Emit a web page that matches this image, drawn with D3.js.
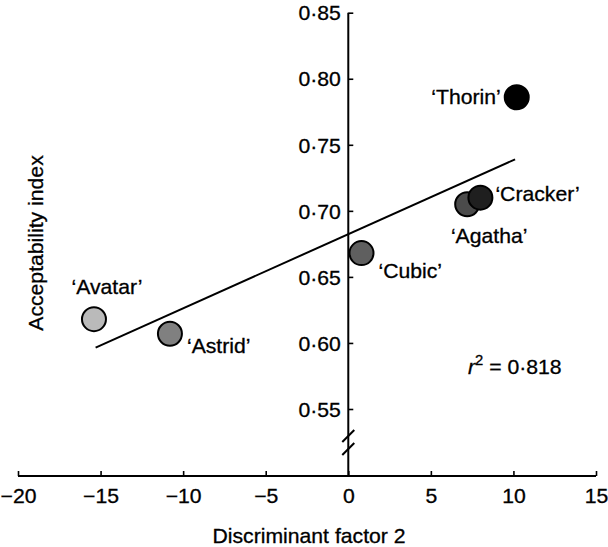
<!DOCTYPE html>
<html>
<head>
<meta charset="utf-8">
<script src="https://cdn.jsdelivr.net/npm/d3@7"></script>
<style>
  html, body { margin: 0; padding: 0; background: #fff; }
  svg { display: block; font-family: "Liberation Sans", Arial, Helvetica, sans-serif; }
  text { stroke: #000; stroke-width: 0.3px; }
</style>
</head>
<body>
<svg id="chart" width="608" height="547"></svg>
<script>
// ---- data ----
const cultivars = ["Avatar", "Astrid", "Cubic", "Agatha", "Cracker", "Thorin"];
const factor2 = [-15.4, -10.8, 0.8, 7.2, 8.0, 10.2];
const acceptability = [0.618, 0.607, 0.668, 0.705, 0.710, 0.786];
const trendX = [-15.3, 10.1];
const trendY = [0.5965, 0.739];
const xTicks = [-20, -15, -10, -5, 0, 5, 10, 15];
const yTicks = [0.55, 0.60, 0.65, 0.70, 0.75, 0.80, 0.85];
const rSquared = "0·818";

// ---- styling / layout ----
const fills = ["#bababa", "#808080", "#5f5f5f", "#4b4b4b", "#1f1f1f", "#000000"];
const labelPos = [
  { dx: 13, dy: -25, anchor: "middle" },
  { dx: 17, dy: 19, anchor: "start" },
  { dx: 17, dy: 25, anchor: "start" },
  { dx: 22, dy: 39, anchor: "middle" },
  { dx: 15, dy: 3, anchor: "start" },
  { dx: -16, dy: 7, anchor: "end" }
];
const stretch = 1.06;
const fmt = v => d3.format(".2f")(v).replace(".", "·");
const minus = v => String(v).replace("-", "\u2212");

const svg = d3.select("#chart");
const x = d3.scaleLinear().domain([-20, 15]).range([18, 596]);
const y = d3.scaleLinear().domain([0.55, 0.85]).range([409, 12.7]);
const axisY = 476;

// x axis
const gx = svg.append("g").attr("transform", `translate(0,${axisY})`)
  .call(d3.axisBottom(x).tickValues(xTicks).tickSize(-5).tickSizeOuter(0).tickPadding(14)
    .tickFormat(minus));
gx.select(".domain").attr("stroke", "#000").attr("stroke-width", 2)
  .attr("d", `M${x(-20)},0H${x(15)}`);
gx.selectAll(".tick line").attr("stroke", "#000").attr("stroke-width", 1.6);
gx.selectAll(".tick text").attr("font-size", 20).attr("fill", "#000")
  .attr("dy", "0.66em").attr("transform", `scale(${stretch},1)`);

// y axis
const gy = svg.append("g").attr("transform", `translate(${x(0)},0)`)
  .call(d3.axisRight(y).tickValues(yTicks).tickSize(5).tickSizeOuter(0).tickFormat(fmt));
gy.select(".domain").remove();
gy.selectAll(".tick line").attr("stroke", "#000").attr("stroke-width", 1.6);
gy.selectAll(".tick text").attr("font-size", 20).attr("fill", "#000")
  .attr("text-anchor", "end").attr("x", -7).attr("dy", "0.36em")
  .attr("transform", `scale(${stretch},1)`);
gy.append("line").attr("x1", 0).attr("x2", 0)
  .attr("y1", y(0.85)).attr("y2", axisY).attr("stroke", "#000").attr("stroke-width", 2);
// axis break
[436, 449].forEach(cy => {
  gy.append("line").attr("x1", -6).attr("y1", cy + 6).attr("x2", 6).attr("y2", cy - 6)
    .attr("stroke", "#000").attr("stroke-width", 2);
});

// trend line
svg.append("line")
  .attr("x1", x(trendX[0])).attr("y1", y(trendY[0]))
  .attr("x2", x(trendX[1])).attr("y2", y(trendY[1]))
  .attr("stroke", "#000").attr("stroke-width", 2);

// points
const pts = cultivars.map((c, i) => ({ c, x: factor2[i], y: acceptability[i], fill: fills[i], lp: labelPos[i] }));
svg.append("g").selectAll("circle").data(pts).join("circle")
  .attr("cx", d => x(d.x)).attr("cy", d => y(d.y)).attr("r", 12)
  .attr("fill", d => d.fill).attr("stroke", "#000").attr("stroke-width", 2);

// point labels
svg.append("g").selectAll("g").data(pts).join("g")
  .attr("transform", d => `translate(${x(d.x) + d.lp.dx},${y(d.y) + d.lp.dy}) scale(${stretch},1)`)
  .append("text").attr("text-anchor", d => d.lp.anchor)
  .attr("font-size", 20).attr("fill", "#000")
  .text(d => `\u2018${d.c}\u2019`);

// r^2 annotation
const rt = svg.append("g").attr("transform", `translate(468,374) scale(${stretch},1)`)
  .append("text").attr("font-size", 20).attr("fill", "#000");
rt.append("tspan").attr("font-style", "italic").text("r");
rt.append("tspan").attr("font-size", 14).attr("dy", -9).text("2");
rt.append("tspan").attr("dy", 9).text(` = ${rSquared}`);

// axis titles
svg.append("g").attr("transform", `translate(309,543) scale(${stretch},1)`)
  .append("text").attr("text-anchor", "middle").attr("font-size", 20).attr("fill", "#000")
  .text("Discriminant factor 2");
svg.append("g").attr("transform", `translate(43,243) rotate(-90) scale(${stretch},1)`)
  .append("text").attr("text-anchor", "middle").attr("font-size", 20).attr("fill", "#000")
  .text("Acceptability index");
</script>
</body>
</html>
